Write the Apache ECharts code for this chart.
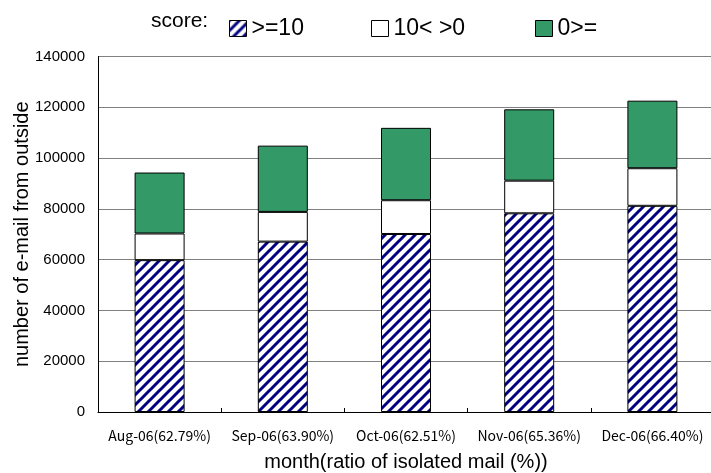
<!DOCTYPE html>
<html>
<head>
<meta charset="utf-8">
<script src="https://cdn.jsdelivr.net/npm/echarts@6/dist/echarts.min.js"></script>
<style>html,body{margin:0;padding:0;background:#fff;}#c{width:711px;height:473px;}</style>
</head>
<body>
<div id="c"></div>
<script>
const categories = ['Aug-06(62.79%)', 'Sep-06(63.90%)', 'Oct-06(62.51%)', 'Nov-06(65.36%)', 'Dec-06(66.40%)'];
const seriesNames = ['>=10', '10< >0', '0>='];
const scoreHigh = [59800, 67100, 70100, 78250, 81200];
const scoreMid = [10500, 11700, 13300, 12850, 14800];
const scoreLow = [24000, 26100, 28500, 28100, 26600];
const yTicks = { min: 0, max: 140000, interval: 20000 };

function hatch() {
  const s = 10;
  const c = document.createElement('canvas');
  c.width = s; c.height = s;
  const g = c.getContext('2d');
  g.fillStyle = '#ffffff';
  g.fillRect(0, 0, s, s);
  g.strokeStyle = '#000080';
  g.lineWidth = 3;
  g.beginPath();
  g.moveTo(-s, s); g.lineTo(s, -s);
  g.moveTo(0, 2 * s); g.lineTo(2 * s, 0);
  g.moveTo(-s, 2 * s); g.lineTo(2 * s, -s);
  g.stroke();
  return c;
}
const pattern = { image: hatch(), repeat: 'repeat' };

const chart = echarts.init(document.getElementById('c'), null, { renderer: 'canvas' });
const font = 'Liberation Sans, Arial, sans-serif';
const legendBase = {
  top: 17, padding: 0, itemWidth: 17, itemHeight: 16,
  icon: 'rect',
  textStyle: { fontFamily: font, fontSize: 23, color: '#000' },
  itemStyle: { borderColor: '#000', borderWidth: 1 },
  selectedMode: false
};
chart.setOption({
  animation: false,
  backgroundColor: '#fff',
  textStyle: { fontFamily: font },
  graphic: [{
    type: 'text', left: 151, top: 11,
    style: { text: 'score:', font: '21px Liberation Sans, Arial, sans-serif', fill: '#000' }
  }],
  legend: [
    Object.assign({}, legendBase, { left: 229, data: [seriesNames[0]] }),
    Object.assign({}, legendBase, { left: 371, data: [seriesNames[1]] }),
    Object.assign({}, legendBase, { left: 535, data: [seriesNames[2]] })
  ],
  grid: { left: 98, right: -3, top: 56.5, bottom: 61, containLabel: false, outerBoundsMode: 'none' },
  xAxis: {
    type: 'category',
    data: categories,
    name: 'month(ratio of isolated mail (%))',
    nameLocation: 'middle',
    nameGap: 40,
    nameMoveOverlap: false,
    nameTextStyle: { fontFamily: font, fontSize: 20, color: '#000' },
    axisLine: { lineStyle: { color: '#000', width: 1 } },
    axisTick: { show: true, inside: true, length: 4, lineStyle: { color: '#000' } },
    axisLabel: { fontFamily: 'Noto Sans CJK JP', fontSize: 14, color: '#000', margin: 17, interval: 0, hideOverlap: false },
    splitLine: { show: false }
  },
  yAxis: {
    type: 'value',
    min: yTicks.min, max: yTicks.max, interval: yTicks.interval,
    name: 'number of e-mail from outside',
    nameLocation: 'middle',
    nameGap: 66,
    nameMoveOverlap: false,
    nameTextStyle: { fontFamily: font, fontSize: 20, color: '#000' },
    axisLine: { show: true, lineStyle: { color: '#000', width: 1 } },
    axisTick: { show: false },
    axisLabel: { fontFamily: font, fontSize: 15, color: '#000', margin: 13, formatter: v => String(v) },
    splitLine: { show: true, lineStyle: { color: '#808080', width: 1 } }
  },
  series: [
    {
      name: seriesNames[0], type: 'bar', stack: 'a', barWidth: 50, data: scoreHigh,
      itemStyle: { color: pattern, borderColor: '#000', borderWidth: 1 }
    },
    {
      name: seriesNames[1], type: 'bar', stack: 'a', barWidth: 50, data: scoreMid,
      itemStyle: { color: '#ffffff', borderColor: '#000', borderWidth: 1 }
    },
    {
      name: seriesNames[2], type: 'bar', stack: 'a', barWidth: 50, data: scoreLow,
      itemStyle: { color: '#339966', borderColor: '#000', borderWidth: 1 }
    }
  ]
});
</script>
</body>
</html>
